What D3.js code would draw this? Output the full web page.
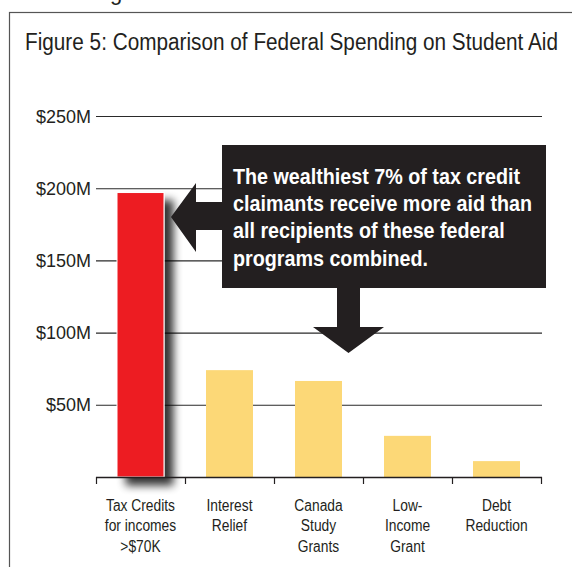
<!DOCTYPE html>
<html>
<head>
<meta charset="utf-8">
<script src="https://cdn.jsdelivr.net/npm/d3@7"></script>
<style>
  html, body { margin: 0; padding: 0; background: #fff; }
  svg { display: block; }
  text { font-family: "Liberation Sans Narrow", "Arial Narrow", "Liberation Sans", Arial, sans-serif; fill: #231f20; }
</style>
</head>
<body>
<svg id="chart" width="572" height="567"></svg>
<script>
// Federal student aid spending, millions of dollars
const categories = ["Tax Credits for incomes >$70K", "Interest Relief", "Canada Study Grants", "Low-Income Grant", "Debt Reduction"];
const categoryLines = [["Tax Credits", "for incomes", ">$70K"], ["Interest", "Relief"], ["Canada", "Study", "Grants"], ["Low-", "Income", "Grant"], ["Debt", "Reduction"]];
const spending = [197, 74, 66.5, 28.5, 11];
const highlighted = [true, false, false, false, false];
const yTicks = [50, 100, 150, 200, 250];
const yTickLabels = ["$50M", "$100M", "$150M", "$200M", "$250M"];
const titleText = "Figure 5: Comparison of Federal Spending on Student Aid";
const calloutLines = ["The wealthiest 7% of tax credit", "claimants receive more aid than", "all recipients of these federal", "programs combined."];

const svg = d3.select("#chart");

const plot = { left: 96, right: 541, top: 116, bottom: 477 };
const y = d3.scaleLinear().domain([0, 250]).range([plot.bottom, plot.top]);
const x = d3.scaleBand().domain(categories).range([plot.left, plot.right])
  .paddingInner(0.472).paddingOuter(0.236);

// condense glyphs horizontally so a reference string spans the given width
function condense(sel, refWidth, refNode) {
  const natural = refNode.getComputedTextLength();
  const k = refWidth / natural;
  sel.each(function () {
    const w = this.getComputedTextLength();
    d3.select(this).attr("textLength", w * k).attr("lengthAdjust", "spacingAndGlyphs");
  });
}

// shadow filter for the highlighted bar
const defs = svg.append("defs");
const f = defs.append("filter").attr("id", "barShadow")
  .attr("x", "-50%").attr("y", "-20%").attr("width", "200%").attr("height", "140%");
f.append("feGaussianBlur").attr("in", "SourceAlpha").attr("stdDeviation", 4).attr("result", "b");
f.append("feOffset").attr("in", "b").attr("dx", 9).attr("dy", 8).attr("result", "o");
f.append("feComponentTransfer").attr("in", "o").attr("result", "s")
  .append("feFuncA").attr("type", "linear").attr("slope", 0.8);
const fm = f.append("feMerge");
fm.append("feMergeNode").attr("in", "s");
fm.append("feMergeNode").attr("in", "SourceGraphic");

// text clipped by the top edge (from the page above)
svg.append("text").attr("x", 110).attr("y", 0).attr("font-size", 22).text("g");

// frame
svg.append("rect").attr("x", 9.5).attr("y", 12.5).attr("width", 700).attr("height", 700)
  .attr("fill", "none").attr("stroke", "#555").attr("stroke-width", 1.2);

// title
const title = svg.append("text").attr("x", 25).attr("y", 50).attr("font-size", 23.5).text(titleText);
condense(title, 533, title.node());

// y axis with gridlines
const yAxis = svg.append("g").attr("transform", `translate(${plot.left},0)`)
  .call(d3.axisLeft(y).tickValues(yTicks)
    .tickFormat((d, i) => yTickLabels[i])
    .tickSize(-(plot.right + 1 - plot.left)).tickPadding(5));
yAxis.select(".domain").remove();
yAxis.selectAll(".tick line").attr("stroke", "#2a2a2a").attr("stroke-width", 1.1);
const yLabels = yAxis.selectAll(".tick text").attr("font-size", 19).attr("fill", "#231f20")
  .attr("font-family", null);
condense(yLabels, 55, yLabels.filter((d) => d === 250).node());

// bars
svg.append("g").selectAll("rect").data(categories).join("rect")
  .attr("x", (d) => x(d))
  .attr("y", (d, i) => y(spending[i]))
  .attr("width", x.bandwidth())
  .attr("height", (d, i) => y(0) - y(spending[i]))
  .attr("fill", (d, i) => highlighted[i] ? "#ed1c24" : "#fcd877")
  .attr("stroke", (d, i) => highlighted[i] ? "#fff" : "none")
  .attr("stroke-width", 1)
  .attr("filter", (d, i) => highlighted[i] ? "url(#barShadow)" : null);

// baseline and category dividers
const gap = (x.step() - x.bandwidth()) / 2;
const dividers = categories.map((d) => x(d) - gap).concat([plot.right]);
svg.append("line").attr("x1", plot.left).attr("x2", plot.right + 1)
  .attr("y1", y(0) + 0.5).attr("y2", y(0) + 0.5).attr("stroke", "#231f20").attr("stroke-width", 1.4);
svg.append("g").selectAll("line").data(dividers).join("line")
  .attr("x1", (d) => Math.round(d) + 0.5).attr("x2", (d) => Math.round(d) + 0.5)
  .attr("y1", y(0)).attr("y2", y(0) + 7).attr("stroke", "#231f20").attr("stroke-width", 1.2);

// category labels
const xl = svg.append("g").selectAll("text").data(categories).join("text")
  .attr("text-anchor", "middle").attr("font-size", 16)
  .attr("x", (d) => x(d) + x.bandwidth() / 2)
  .attr("y", y(0) + 34);
xl.selectAll("tspan").data((d, i) => categoryLines[i]).join("tspan")
  .attr("x", function () { return this.parentNode.getAttribute("x"); })
  .attr("dy", (d, i) => i === 0 ? 0 : 20.3)
  .text((d) => d);
{
  const probe = svg.append("text").attr("font-size", 16).text("Tax Credits");
  const k = 69 / probe.node().getComputedTextLength();
  probe.remove();
  xl.selectAll("tspan").each(function () {
    const w = this.getComputedTextLength();
    d3.select(this).attr("textLength", w * k).attr("lengthAdjust", "spacingAndGlyphs");
  });
}

// callout box with arrows
const box = { x: 222, y: 145, w: 324, h: 143 };
const callout = svg.append("g").attr("fill", "#231f20");
const tipX = x(categories[0]) + x.bandwidth() + 7;
const tipY = 217;
callout.append("path").attr("d", d3.line()([
  [box.x, 202], [196, 202], [196, 183], [tipX, tipY], [196, 252], [196, 230], [box.x, 230]
]) + "Z");
callout.append("path").attr("d", d3.line()([
  [337, box.y + box.h], [337, 327], [313, 327], [348.5, 353], [384, 327], [360, 327], [360, box.y + box.h]
]) + "Z");
callout.append("rect").attr("x", box.x).attr("y", box.y).attr("width", box.w).attr("height", box.h);

const ct = svg.append("g").selectAll("text").data(calloutLines).join("text")
  .attr("x", 233).attr("y", (d, i) => 184 + i * 27.2)
  .attr("font-size", 22.5).attr("font-weight", "bold")
  .style("fill", "#fff").text((d) => d);
condense(ct, 287, ct.nodes()[0]);
</script>
</body>
</html>
